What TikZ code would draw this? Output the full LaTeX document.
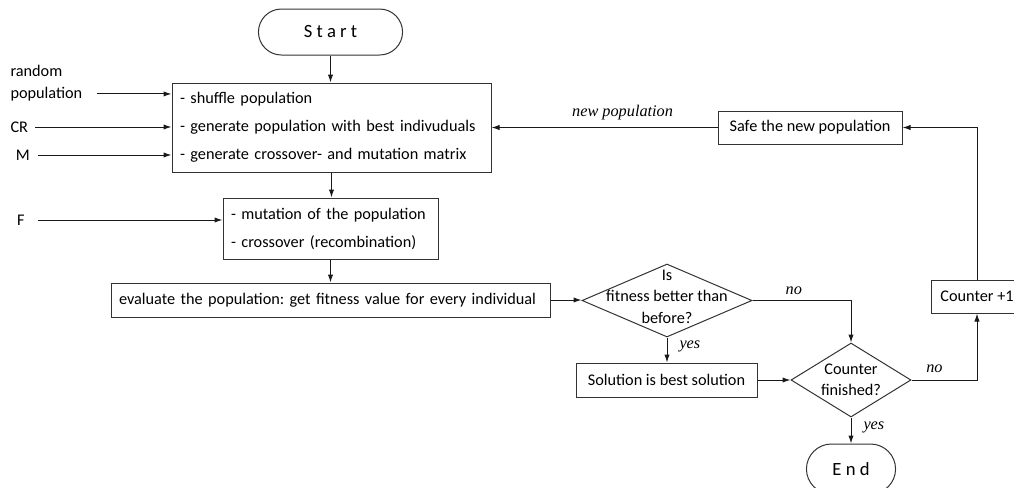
\documentclass[tikz,border=0pt]{standalone}
\usepackage{fontspec}
\setmainfont{Carlito}
\newfontfamily\labelfont{Liberation Serif}
\usetikzlibrary{shapes.geometric,shapes.misc,arrows.meta}
\frenchspacing

\tikzset{
  box/.style={draw=black!80, rectangle, inner sep=0pt, minimum height=24.75pt,
    font=\fontsize{12.2}{15}\selectfont},
  listbox/.style={box, align=left, inner xsep=6pt, font=\fontsize{12.2}{21}\selectfont},
  terminal/.style={draw=black!80, rounded rectangle, font=\fontsize{14}{16}\selectfont},
  decision/.style={draw=black!80, diamond, inner sep=0pt},
  dtext/.style={align=center, font=\fontsize{12.2}{16}\selectfont},
  input/.style={align=left, inner sep=0pt, font=\fontsize{12.2}{16.5}\selectfont},
  arr/.style={draw=black!90, -{Latex[length=6pt,width=4pt]}},
  lbl/.style={font=\labelfont\itshape\fontsize{12.2}{14}\selectfont, inner sep=1pt},
}

\begin{document}
\begin{tikzpicture}[x=0.75pt, y=-0.75pt, line width=0.75pt]
  \useasboundingbox (0,0) rectangle (1014,487);

  % main column
  \node[terminal, minimum width=114.75pt, minimum height=34.5pt] (start) at (330.5,32) {S t a r t};
  \node[listbox, text width=227.25pt, minimum height=66.75pt] (prep) at (331.5,127.5)
    {- shuffle population\\- generate population with best indivuduals\\- generate crossover- and mutation matrix};
  \node[listbox, text width=149.25pt, minimum height=45.75pt] (mut) at (330.5,228.5)
    {- mutation of the population\\- crossover (recombination)};
  \node[listbox, text width=317.25pt, minimum height=25.5pt] (eval) at (330.5,300)
    {evaluate the population: get fitness value for every individual};

  % decisions
  \node[decision, minimum width=127.5pt, minimum height=54.75pt,
    label={[dtext, yshift=3pt]center:{Is\\fitness better than\\before?}}] (better) at (667,300.5) {};
  \node[box, minimum width=135.75pt, minimum height=25.5pt] (best) at (666.5,380) {Solution is best solution};
  \node[decision, minimum width=90pt, minimum height=55.5pt,
    label={[dtext]center:{Counter\\finished?}}] (finished) at (851,380) {};
  \node[terminal, minimum width=73.5pt, minimum height=37.5pt] (stop) at (851,469) {E n d};

  % loop back
  \node[box, minimum width=69pt] (counter) at (977,296.5) {Counter +1};
  \node[box, minimum width=138pt] (save) at (810,127.5) {Safe the new population};

  % inputs
  \node[input, anchor=west] (rnd) at (10,83) {random\\population};
  \node[input, anchor=west] (cr) at (10,127) {CR};
  \node[input, anchor=west] (m) at (15.5,155) {M};
  \node[input, anchor=west] (f) at (16.5,220) {F};

  \draw[arr] ([xshift=10.5pt,yshift=-8.2pt]rnd.east) -- ([yshift=-8.2pt]rnd.east -| prep.west);
  \draw[arr] ([xshift=5pt]cr.east) -- (cr -| prep.west);
  \draw[arr] ([xshift=6pt]m.east) -- (m -| prep.west);
  \draw[arr] ([xshift=9.5pt]f.east) -- (f -| mut.west);

  % flow
  \draw[arr] (start.south) -- (start.south |- prep.north);
  \draw[arr] (prep.south) -- (prep.south |- mut.north);
  \draw[arr] (mut.south) -- (mut.south |- eval.north);
  \draw[arr] (eval.east) -- (eval.east -| better.west);
  \draw[arr] (better.east) -| node[lbl, above=3pt, pos=0.21] {no} (finished.north);
  \draw[arr] (better.south) -- node[lbl, right=8pt, pos=0.35] {yes} (better.south |- best.north);
  \draw[arr] (best.east) -- (finished.west);
  \draw[arr] (finished.south) -- node[lbl, right=8pt, pos=0.4] {yes} (stop.north);
  \draw[arr] (finished.east) -| node[lbl, above=4pt, pos=0.175] {no} (counter.south);
  \draw[arr] (counter.north) |- (save.east);
  \draw[arr] (save.west) -- node[lbl, above=4pt, pos=0.42] {new population} (save.west -| prep.east);
\end{tikzpicture}
\end{document}
